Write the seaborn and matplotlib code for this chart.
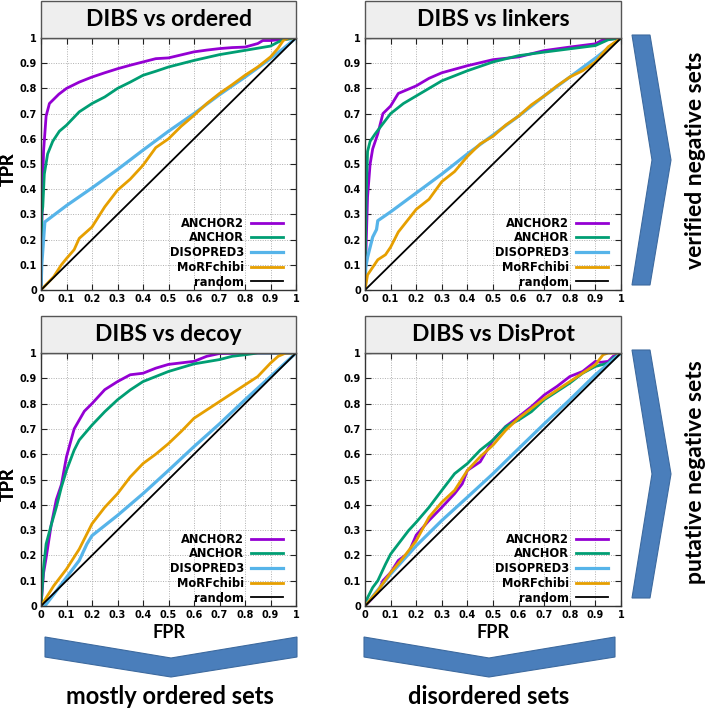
import numpy as np
import pandas as pd
import matplotlib
matplotlib.use("Agg")
import matplotlib.pyplot as plt
from matplotlib.patches import Rectangle, Polygon
import seaborn as sns

plt.rcParams['font.family'] = ['DejaVu Sans']
plt.rcParams['font.weight'] = 'bold'

METHODS = ["ANCHOR2", "ANCHOR", "DISOPRED3", "MoRFchibi", "random"]
COLORS = ["#9400D3", "#009E73", "#56B4E9", "#E69F00", "#000000"]
TICKS = [0, 0.1, 0.2, 0.3, 0.4, 0.5, 0.6, 0.7, 0.8, 0.9, 1.0]
TICK_LABELS = ["0", "0.1", "0.2", "0.3", "0.4", "0.5", "0.6", "0.7", "0.8", "0.9", "1"]
TITLES = ["DIBS vs ordered", "DIBS vs linkers", "DIBS vs decoy", "DIBS vs DisProt"]
RANDOM_X = [0, 1]
RANDOM_Y = [0, 1]

# --- DIBS vs ordered ---
ORD_ANCHOR2_X = [0, 0.003, 0.01, 0.02, 0.033, 0.07, 0.1, 0.15, 0.2, 0.25, 0.3, 0.35, 0.4, 0.45, 0.5, 0.55, 0.6, 0.65, 0.7, 0.75, 0.8, 0.85, 0.87, 0.9, 0.95, 1.0]
ORD_ANCHOR2_Y = [0, 0.25, 0.55, 0.69, 0.74, 0.777, 0.80, 0.825, 0.845, 0.862, 0.878, 0.892, 0.905, 0.918, 0.921, 0.933, 0.945, 0.952, 0.958, 0.962, 0.964, 0.978, 0.99, 0.99, 0.995, 1.0]
ORD_ANCHOR_X = [0, 0.003, 0.007, 0.013, 0.026, 0.046, 0.072, 0.1, 0.15, 0.2, 0.25, 0.3, 0.35, 0.4, 0.45, 0.5, 0.6, 0.7, 0.8, 0.9, 0.93, 0.95, 1.0]
ORD_ANCHOR_Y = [0, 0.3, 0.33, 0.46, 0.54, 0.59, 0.63, 0.654, 0.707, 0.74, 0.766, 0.80, 0.825, 0.852, 0.868, 0.885, 0.911, 0.934, 0.951, 0.968, 0.984, 0.993, 1.0]
ORD_DISO_X = [0, 0.003, 0.015, 0.1, 0.2, 0.3, 0.4, 0.5, 0.6, 0.7, 0.8, 0.9, 0.95, 1.0]
ORD_DISO_Y = [0, 0.1, 0.27, 0.335, 0.405, 0.478, 0.555, 0.63, 0.70, 0.775, 0.845, 0.918, 0.958, 1.0]
ORD_MORF_X = [0, 0.05, 0.08, 0.1, 0.13, 0.15, 0.2, 0.25, 0.3, 0.35, 0.4, 0.45, 0.5, 0.55, 0.6, 0.65, 0.7, 0.75, 0.8, 0.85, 0.9, 0.93, 0.95, 0.97, 1.0]
ORD_MORF_Y = [0, 0.053, 0.1, 0.125, 0.16, 0.205, 0.25, 0.33, 0.396, 0.44, 0.495, 0.565, 0.60, 0.65, 0.693, 0.74, 0.78, 0.815, 0.852, 0.885, 0.925, 0.96, 0.99, 1.0, 1.0]

# --- DIBS vs linkers ---
LNK_ANCHOR2_X = [0, 0.005, 0.01, 0.02, 0.03, 0.05, 0.07, 0.1, 0.13, 0.2, 0.25, 0.3, 0.4, 0.5, 0.6, 0.7, 0.8, 0.9, 0.93, 1.0]
LNK_ANCHOR2_Y = [0, 0.2, 0.37, 0.50, 0.56, 0.62, 0.70, 0.73, 0.78, 0.81, 0.84, 0.862, 0.89, 0.914, 0.925, 0.95, 0.964, 0.977, 0.993, 1.0]
LNK_ANCHOR_X = [0, 0.004, 0.01, 0.02, 0.04, 0.07, 0.1, 0.15, 0.2, 0.25, 0.3, 0.4, 0.5, 0.6, 0.7, 0.8, 0.9, 0.95, 1.0]
LNK_ANCHOR_Y = [0, 0.35, 0.55, 0.59, 0.62, 0.66, 0.70, 0.74, 0.77, 0.80, 0.83, 0.87, 0.905, 0.93, 0.944, 0.957, 0.97, 0.993, 1.0]
LNK_DISO_X = [0, 0.003, 0.01, 0.03, 0.045, 0.05, 0.1, 0.2, 0.3, 0.4, 0.5, 0.6, 0.7, 0.8, 0.9, 1.0]
LNK_DISO_Y = [0, 0.09, 0.13, 0.21, 0.24, 0.275, 0.31, 0.385, 0.46, 0.54, 0.615, 0.69, 0.77, 0.845, 0.92, 1.0]
LNK_MORF_X = [0, 0.01, 0.05, 0.08, 0.1, 0.13, 0.2, 0.25, 0.3, 0.35, 0.4, 0.45, 0.5, 0.55, 0.6, 0.65, 0.7, 0.75, 0.8, 0.85, 0.9, 0.95, 1.0]
LNK_MORF_Y = [0, 0.06, 0.12, 0.14, 0.17, 0.23, 0.32, 0.36, 0.43, 0.47, 0.53, 0.58, 0.61, 0.655, 0.69, 0.735, 0.77, 0.81, 0.845, 0.87, 0.905, 0.965, 1.0]

# --- DIBS vs decoy ---
DEC_ANCHOR2_X = [0, 0.01, 0.02, 0.04, 0.06, 0.08, 0.1, 0.13, 0.17, 0.2, 0.25, 0.3, 0.35, 0.4, 0.45, 0.5, 0.6, 0.65, 0.7, 0.83, 1.0]
DEC_ANCHOR2_Y = [0, 0.13, 0.19, 0.32, 0.42, 0.48, 0.59, 0.70, 0.77, 0.80, 0.855, 0.887, 0.914, 0.92, 0.94, 0.955, 0.967, 0.987, 0.998, 1.0, 1.0]
DEC_ANCHOR_X = [0, 0.01, 0.02, 0.04, 0.06, 0.08, 0.1, 0.13, 0.15, 0.2, 0.25, 0.3, 0.35, 0.4, 0.5, 0.6, 0.7, 0.75, 0.8, 0.85, 1.0]
DEC_ANCHOR_Y = [0, 0.15, 0.245, 0.32, 0.39, 0.47, 0.536, 0.616, 0.656, 0.715, 0.768, 0.815, 0.854, 0.887, 0.927, 0.957, 0.974, 0.987, 0.993, 1.0, 1.0]
DEC_DISO_X = [0, 0.015, 0.05, 0.1, 0.15, 0.18, 0.2, 0.3, 0.4, 0.5, 0.6, 0.7, 0.8, 0.9, 1.0]
DEC_DISO_Y = [0, 0.0, 0.046, 0.113, 0.18, 0.245, 0.278, 0.358, 0.444, 0.536, 0.63, 0.72, 0.815, 0.907, 1.0]
DEC_MORF_X = [0, 0.05, 0.1, 0.15, 0.2, 0.25, 0.3, 0.35, 0.4, 0.45, 0.5, 0.55, 0.6, 0.65, 0.7, 0.75, 0.8, 0.85, 0.9, 0.93, 0.96, 1.0]
DEC_MORF_Y = [0, 0.08, 0.146, 0.225, 0.325, 0.39, 0.444, 0.51, 0.563, 0.6, 0.642, 0.69, 0.742, 0.775, 0.808, 0.841, 0.874, 0.907, 0.96, 0.987, 1.0, 1.0]

# --- DIBS vs DisProt ---
DSP_ANCHOR2_X = [0, 0.05, 0.07, 0.1, 0.13, 0.17, 0.2, 0.25, 0.3, 0.35, 0.38, 0.4, 0.45, 0.5, 0.55, 0.6, 0.65, 0.7, 0.75, 0.8, 0.85, 0.9, 0.92, 0.95, 0.97, 1.0]
DSP_ANCHOR2_Y = [0, 0.053, 0.1, 0.132, 0.18, 0.21, 0.28, 0.338, 0.39, 0.444, 0.483, 0.536, 0.57, 0.656, 0.71, 0.748, 0.788, 0.834, 0.868, 0.907, 0.927, 0.967, 0.963, 0.967, 0.987, 1.0]
DSP_ANCHOR_X = [0, 0.01, 0.03, 0.05, 0.08, 0.1, 0.13, 0.17, 0.2, 0.25, 0.3, 0.35, 0.4, 0.45, 0.5, 0.55, 0.6, 0.65, 0.7, 0.75, 0.8, 0.85, 0.9, 0.95, 0.97, 1.0]
DSP_ANCHOR_Y = [0, 0.033, 0.073, 0.1, 0.165, 0.205, 0.245, 0.298, 0.331, 0.39, 0.457, 0.523, 0.563, 0.616, 0.656, 0.709, 0.735, 0.768, 0.815, 0.848, 0.881, 0.92, 0.947, 0.96, 0.98, 1.0]
DSP_DISO_X = [0, 0.1, 0.2, 0.3, 0.4, 0.5, 0.6, 0.7, 0.8, 0.9, 1.0]
DSP_DISO_Y = [0, 0.126, 0.238, 0.338, 0.43, 0.523, 0.622, 0.72, 0.815, 0.914, 1.0]
DSP_MORF_X = [0, 0.05, 0.1, 0.15, 0.2, 0.25, 0.3, 0.35, 0.4, 0.45, 0.5, 0.55, 0.6, 0.7, 0.8, 0.9, 0.93, 0.95, 1.0]
DSP_MORF_Y = [0, 0.06, 0.132, 0.192, 0.258, 0.351, 0.41, 0.457, 0.536, 0.59, 0.636, 0.695, 0.742, 0.82, 0.887, 0.954, 0.993, 1.0, 1.0]

PANELS = [
    [(ORD_ANCHOR2_X, ORD_ANCHOR2_Y), (ORD_ANCHOR_X, ORD_ANCHOR_Y), (ORD_DISO_X, ORD_DISO_Y), (ORD_MORF_X, ORD_MORF_Y), (RANDOM_X, RANDOM_Y)],
    [(LNK_ANCHOR2_X, LNK_ANCHOR2_Y), (LNK_ANCHOR_X, LNK_ANCHOR_Y), (LNK_DISO_X, LNK_DISO_Y), (LNK_MORF_X, LNK_MORF_Y), (RANDOM_X, RANDOM_Y)],
    [(DEC_ANCHOR2_X, DEC_ANCHOR2_Y), (DEC_ANCHOR_X, DEC_ANCHOR_Y), (DEC_DISO_X, DEC_DISO_Y), (DEC_MORF_X, DEC_MORF_Y), (RANDOM_X, RANDOM_Y)],
    [(DSP_ANCHOR2_X, DSP_ANCHOR2_Y), (DSP_ANCHOR_X, DSP_ANCHOR_Y), (DSP_DISO_X, DSP_DISO_Y), (DSP_MORF_X, DSP_MORF_Y), (RANDOM_X, RANDOM_Y)],
]

W, H = 711, 710
fig = plt.figure(figsize=(W / 100, H / 100), dpi=100)

def fx(x): return x / W
def fy(y): return 1 - y / H

# panel boxes in pixels: (left, top, right, bottom)
BOXES = [(41, 38, 296, 290), (365, 38, 621, 290), (41, 353, 296, 606), (365, 353, 621, 606)]
TITLE_H = 37
LWS = [2.0, 2.0, 2.3, 2.0, 1.3]

for i, (l, t, r, b) in enumerate(BOXES):
    ax = fig.add_axes([fx(l), fy(b), (r - l) / W, (b - t) / H])
    for (xs, ys), name, col, lw in zip(PANELS[i], METHODS, COLORS, LWS):
        df = pd.DataFrame({"FPR": xs, "TPR": ys})
        sns.lineplot(data=df, x="FPR", y="TPR", ax=ax, color=col, linewidth=lw,
                     sort=False, estimator=None, legend=False)
    ax.set_xlim(0, 1)
    ax.set_ylim(0, 1)
    ax.set_xticks(TICKS)
    ax.set_xticklabels(TICK_LABELS)
    ax.set_yticks(TICKS)
    ax.set_yticklabels(TICK_LABELS)
    ax.tick_params(direction='in', length=4, width=0.8, top=True, right=True,
                   labelsize=7, pad=3, colors='#222222')
    for lab in ax.get_xticklabels() + ax.get_yticklabels():
        lab.set_fontweight('bold')
        lab.set_color('black')
    ax.grid(True, color='#b0b0b0', linestyle=(0, (1, 1.5)), linewidth=0.7)
    for s in ax.spines.values():
        s.set_color('#333333')
        s.set_linewidth(1.0)
    ax.set_ylabel("TPR", fontsize=13, fontweight='bold', family='Lato')
    ax.yaxis.label.set_va('center')
    ax.yaxis.set_label_coords((8.5 - l) / (r - l), 0.48)
    if i >= 2:
        ax.set_xlabel("FPR", fontsize=13, fontweight='bold', family='Lato', labelpad=3)
    else:
        ax.set_xlabel("")
    hgt = TITLE_H / (b - t)
    ax.add_patch(Rectangle((0, 1), 1, hgt, transform=ax.transAxes, clip_on=False,
                           facecolor='#eeeeee', edgecolor='#555555', linewidth=1.0, zorder=5))
    ax.text(0.5, 1 + hgt / 2, TITLES[i], transform=ax.transAxes, ha='center', va='center',
            fontsize=16.5, fontweight='bold', family='Lato', zorder=6)
    leg = ax.legend(handles=ax.lines[:5], labels=METHODS, loc='lower right', frameon=False,
                    markerfirst=False, handlelength=2.8, handletextpad=0.6, labelspacing=0.15,
                    borderaxespad=0, borderpad=0,
                    bbox_to_anchor=(1 - 13 / (r - l), 1.5 / (b - t)),
                    prop={'family': 'DejaVu Sans', 'weight': 'bold', 'size': 8.3})

CHEV = '#4a7ebb'
CHEV_E = '#3d6a9f'
right_chevrons = [
    [(632, 35), (650, 35), (671, 160), (650, 285), (632, 285), (652, 160)],
    [(632, 350), (650, 350), (671, 474), (650, 598), (632, 598), (652, 474)],
]
bottom_chevrons = [
    [(45, 637), (171, 658), (297, 637), (297, 657), (171, 677), (45, 657)],
    [(364, 637), (489, 658), (615, 637), (615, 657), (489, 677), (364, 657)],
]
for pts in right_chevrons + bottom_chevrons:
    fig.add_artist(Polygon([(fx(x), fy(y)) for x, y in pts], closed=True, transform=fig.transFigure,
                           facecolor=CHEV, edgecolor=CHEV_E, linewidth=0.8))

fig.text(fx(695), fy(160), "verified negative sets", rotation=90, ha='center', va='center',
         fontsize=16.5, fontweight='bold', family='Lato')
fig.text(fx(695), fy(472), "putative negative sets", rotation=90, ha='center', va='center',
         fontsize=16.5, fontweight='bold', family='Lato')
fig.text(fx(170), fy(697), "mostly ordered sets", ha='center', va='center',
         fontsize=17, fontweight='bold', family='Lato')
fig.text(fx(489), fy(697), "disordered sets", ha='center', va='center',
         fontsize=17, fontweight='bold', family='Lato')

fig.savefig("out.png", dpi=100)
